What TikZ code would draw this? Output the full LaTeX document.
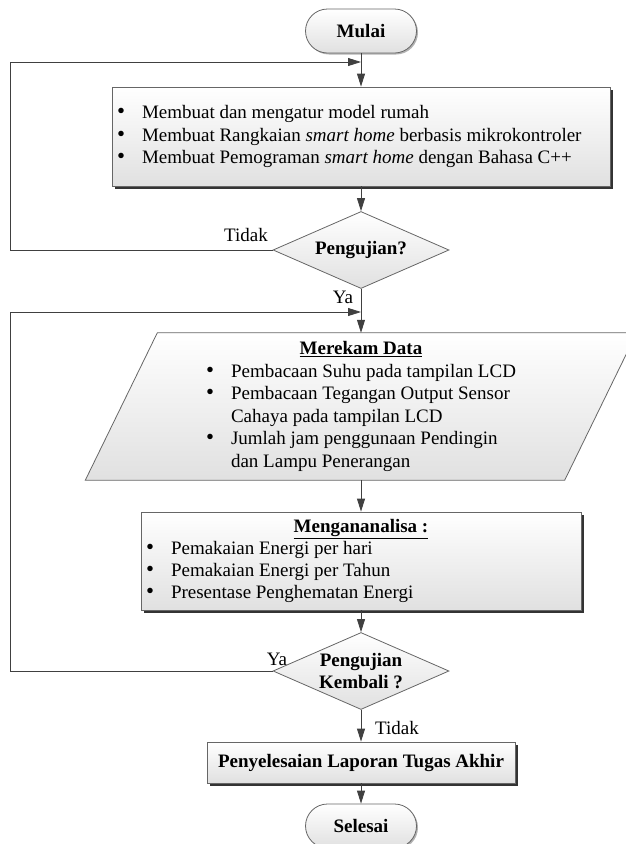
\documentclass[tikz,border=0pt]{standalone}
\usepackage{fontspec}
\setmainfont{Liberation Serif}
\usetikzlibrary{arrows.meta,shapes.geometric,shadows,backgrounds}
\definecolor{LineClr}{rgb}{0.25,0.25,0.25}
\definecolor{EdgeClr}{rgb}{0.4,0.4,0.4}
\definecolor{LowClr}{rgb}{0.88,0.88,0.88}
\newcommand{\itm}[1]{\makebox[25pt][l]{\raisebox{0pt}[0pt][0pt]{\scalebox{1.2}{\textbullet}}}#1}
\newcommand{\itmcont}[1]{\hspace*{25pt}#1}
\tikzset{
  shapebase/.style={font=\fontsize{19}{22.5}\selectfont, draw=EdgeClr, line width=0.8pt,
    top color=white, bottom color=LowClr, inner sep=0pt},
  procbox/.style={shapebase, rectangle,
    drop shadow={shadow xshift=2.5pt, shadow yshift=-2.5pt, fill=black!80, opacity=1}},
  termbox/.style={shapebase, rectangle, rounded corners=22pt, minimum width=111pt,
    minimum height=44pt, font=\fontsize{19}{22.5}\selectfont\bfseries,
    drop shadow={shadow xshift=1.5pt, shadow yshift=-1.5pt, fill=black!30, opacity=1}},
  decbox/.style={shapebase, diamond, aspect=2.29, minimum width=176pt, minimum height=77pt,
    font=\fontsize{19}{22}\selectfont\bfseries, align=center},
  lbl/.style={font=\fontsize{19}{22.5}\selectfont, inner sep=0pt},
  connline/.style={draw=LineClr, line width=0.8pt},
  arr/.style={connline, -{Triangle[length=13pt,width=8pt]}}
}

\begin{document}
\begin{tikzpicture}[x=1pt,y=-1pt]
\useasboundingbox (0,0) rectangle (626,844);

% terminal and process boxes
\node[termbox] (mulai) at (361,31) {Mulai};

\node[procbox, minimum width=498pt, minimum height=99pt] (buat) at (361,136.5)
  {\begin{tabular}{@{}p{488pt}@{}}
   \itm{Membuat dan mengatur model rumah}\\
   \itm{Membuat Rangkaian \textit{smart home} berbasis mikrokontroler}\\
   \itm{Membuat Pemograman \textit{smart home} dengan Bahasa C++}
   \end{tabular}};

\node[decbox] (uji1) at (361,250) {Pengujian?};

% data input (parallelogram drawn behind)
\node[font=\fontsize{19}{22.6}\selectfont, inner sep=0pt, minimum width=479pt,
  minimum height=147pt] (rekam) at (361,406.5)
  {\begin{tabular}{@{}l@{}}
   \multicolumn{1}{@{}c@{}}{\underline{\textbf{Merekam Data}}}\\
   \itm{Pembacaan Suhu pada tampilan LCD}\\
   \itm{Pembacaan Tegangan Output Sensor}\\
   \itmcont{Cahaya pada tampilan LCD}\\
   \itm{Jumlah jam penggunaan Pendingin}\\
   \itmcont{dan Lampu Penerangan}
   \end{tabular}};
\begin{scope}[on background layer]
\draw[draw=EdgeClr, line width=0.8pt, top color=white, bottom color=LowClr]
  ([xshift=36pt]rekam.north west) -- ([xshift=36pt]rekam.north east)
  -- ([xshift=-36pt]rekam.south east) -- ([xshift=-36pt]rekam.south west) -- cycle;
\end{scope}

\node[procbox, minimum width=440pt, minimum height=98pt,
  font=\fontsize{19}{22}\selectfont] (analisa) at (361,561)
  {\begin{tabular}{@{}l@{}}
   \makebox[430pt]{\underline{\textbf{Mengananalisa :}}}\\
   \itm{Pemakaian Energi per hari}\\
   \itm{Pemakaian Energi per Tahun}\\
   \itm{Presentase Penghematan Energi}
   \end{tabular}};

\node[decbox] (uji2) at (361,671) {Pengujian\\Kembali ?};

\node[procbox, minimum width=308pt, minimum height=41pt,
  font=\fontsize{19}{22.5}\selectfont\bfseries] (akhir) at (361,762.5)
  {Penyelesaian Laporan Tugas Akhir};

\node[termbox] (selesai) at (361,826) {Selesai};

% labels
\node[lbl] (tidak1) at (246,235) {Tidak};
\node[lbl] (ya1) at (343,297) {Ya};
\node[lbl] (ya2) at (277,659) {Ya};
\node[lbl] (tidak2) at (397,728) {Tidak};

% loop corners
\coordinate (sudut1) at (10,62);
\coordinate (masuk1) at (361,62);
\coordinate (sudut2) at (10,312);
\coordinate (masuk2) at (361,312);

% connectors
\draw[arr] (mulai) -- (buat);
\draw[arr] (buat) -- (uji1);
\draw[arr] (uji1.west) -| (sudut1) -- (masuk1);
\draw[arr] (uji1) -- (rekam);
\draw[arr] (rekam) -- (analisa);
\draw[arr] (analisa) -- (uji2);
\draw[arr] (uji2.west) -| (sudut2) -- (masuk2);
\draw[arr] (uji2) -- (akhir);
\draw[arr] (akhir) -- (selesai);

\end{tikzpicture}
\end{document}
